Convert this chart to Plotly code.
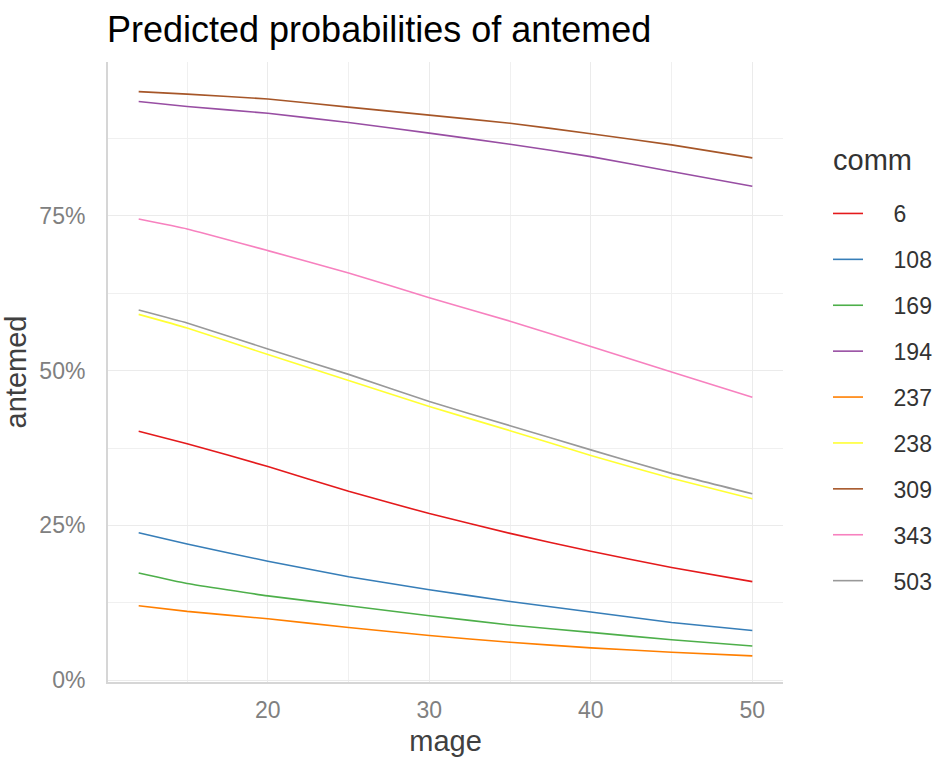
import plotly.graph_objects as go

mage = [12, 15, 20, 25, 30, 35, 40, 45, 50]
comm_labels = ["6", "108", "169", "194", "237", "238", "309", "343", "503"]
colors = ["#E41A1C", "#377EB8", "#4DAF4A", "#984EA3", "#FF7F00", "#FFFF33", "#A65628", "#F781BF", "#999999"]

p_6   = [0.402, 0.382, 0.345, 0.305, 0.269, 0.237, 0.208, 0.182, 0.159]
p_108 = [0.238, 0.220, 0.192, 0.167, 0.146, 0.127, 0.110, 0.093, 0.080]
p_169 = [0.173, 0.156, 0.136, 0.120, 0.104, 0.089, 0.077, 0.065, 0.055]
p_194 = [0.935, 0.927, 0.916, 0.901, 0.884, 0.866, 0.846, 0.822, 0.798]
p_237 = [0.120, 0.111, 0.099, 0.085, 0.072, 0.061, 0.052, 0.045, 0.039]
p_238 = [0.591, 0.569, 0.526, 0.484, 0.442, 0.403, 0.363, 0.326, 0.293]
p_309 = [0.951, 0.947, 0.939, 0.926, 0.913, 0.900, 0.883, 0.865, 0.844]
p_343 = [0.745, 0.729, 0.694, 0.658, 0.618, 0.580, 0.539, 0.498, 0.457]
p_503 = [0.598, 0.577, 0.535, 0.494, 0.450, 0.411, 0.372, 0.334, 0.301]

series = [p_6, p_108, p_169, p_194, p_237, p_238, p_309, p_343, p_503]

PAD = "\u00a0" * 4  # visual gap between legend line and label, as in the reference

fig = go.Figure()
for lab, col, vals in zip(comm_labels, colors, series):
    fig.add_trace(go.Scatter(
        x=mage, y=vals, mode="lines", name=PAD + lab, legendgroup=lab,
        line=dict(color=col, width=1.6, shape="spline", smoothing=0.4),
    ))

font_family = "Liberation Sans, Arial, sans-serif"
fig.update_layout(
    width=935, height=760,
    paper_bgcolor="white", plot_bgcolor="white",
    margin=dict(l=108, r=152, t=62, b=78),
    title=dict(text="Predicted probabilities of antemed", x=107/935, xanchor="left",
               y=0.961, yanchor="middle",
               font=dict(family=font_family, size=36, color="black")),
    legend=dict(
        font=dict(family=font_family, size=23, color="#333333"),
        xref="container", yref="container",
        x=828/935, xanchor="left", y=1 - 192/760, yanchor="top",
        tracegroupgap=13, itemwidth=30, maxheight=700,
    ),
    annotations=[dict(
        text="comm", xref="paper", yref="paper",
        x=(831 - 108) / 675, xanchor="left", y=1 - (160 - 62) / 620, yanchor="middle",
        showarrow=False, font=dict(family=font_family, size=29, color="#333333"),
    )],
    xaxis=dict(
        range=[10.1, 51.9], dtick=10, tick0=0,
        showgrid=True, gridcolor="#ebebeb", gridwidth=1.3,
        minor=dict(dtick=5, tick0=0, showgrid=True, gridcolor="#f0f0f0", gridwidth=1),
        showline=True, linecolor="#d6d6d6", linewidth=2,
        zeroline=False, ticks="", ticklabelstandoff=6, automargin=False,
        tickfont=dict(family=font_family, size=23, color="#808080"),
        title=dict(text="mage", font=dict(family=font_family, size=29, color="#404040"), standoff=9),
    ),
    yaxis=dict(
        range=[-0.0032, 0.9989], dtick=0.25, tick0=0, tickformat=".0%",
        showgrid=True, gridcolor="#ebebeb", gridwidth=1.3,
        minor=dict(dtick=0.125, tick0=0, showgrid=True, gridcolor="#f0f0f0", gridwidth=1),
        showline=True, linecolor="#d6d6d6", linewidth=2,
        zeroline=False, ticks="", ticklabelstandoff=16, automargin=False,
        tickfont=dict(family=font_family, size=23, color="#808080"),
        title=dict(text="antemed", font=dict(family=font_family, size=29, color="#404040"), standoff=5),
    ),
)

fig.write_html("out.html", config={"displayModeBar": False},
               post_script="document.body.style.margin='0px';")
